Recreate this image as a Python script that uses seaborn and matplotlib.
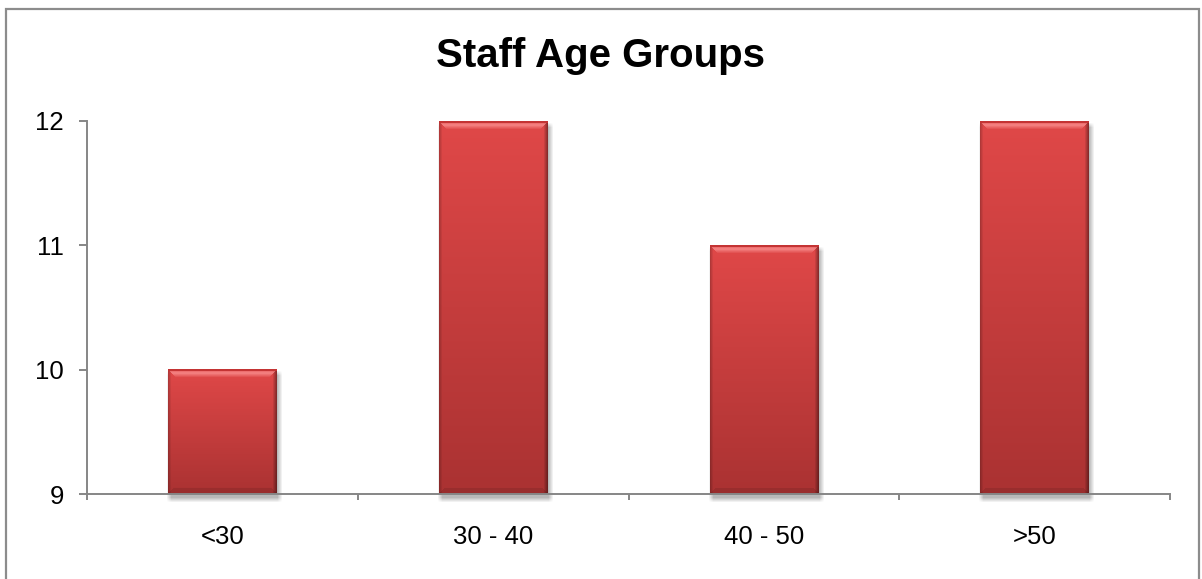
import numpy as np
import pandas as pd
import matplotlib
matplotlib.use("Agg")
import matplotlib.pyplot as plt
import seaborn as sns
from matplotlib.patches import Rectangle

# Chart data
age_groups = ["<30", "30 - 40", "40 - 50", ">50"]
staff_counts = [10, 12, 11, 12]
y_ticks = [9, 10, 11, 12]
chart_title = "Staff Age Groups"

sns.set_theme(style="white")
plt.rcParams["font.family"] = ["Liberation Sans", "DejaVu Sans"]

W, H, DPI = 1202, 579, 100
AXIS_GREY = "#868686"

fig = plt.figure(figsize=(W / DPI, H / DPI), dpi=DPI)
fig.patch.set_facecolor("white")
ax = fig.add_axes([87 / W, 1 - 494 / H, (1170 - 87) / W, (494 - 121) / H])

df = pd.DataFrame({"group": age_groups, "staff": staff_counts})
sns.barplot(data=df, x="group", y="staff", ax=ax, color="#d64343",
            width=0.4, saturation=1, edgecolor="none", zorder=2)

ax.set_ylim(y_ticks[0], y_ticks[-1])
ax.set_xlim(-0.5, len(age_groups) - 0.5)
ax.set_xlabel("")
ax.set_ylabel("")


def bar_texture(wpx, hpx):
    """Bevelled red fill for a bar of wpx x hpx pixels."""
    ys = np.arange(hpx)[:, None].astype(float)
    xs = np.arange(wpx)[None, :].astype(float)
    t = ys / max(hpx - 1, 1)
    top = np.array([224, 72, 72]) / 255.0
    bot = np.array([170, 50, 50]) / 255.0
    img = top[None, None, :] + (bot - top)[None, None, :] * t[..., None]
    img = np.repeat(img, wpx, axis=1)

    # darker side edges
    left = np.clip(xs / 3.0, 0, 1)
    right = np.clip((wpx - 1 - xs) / 4.0, 0, 1)
    shade = (0.80 + 0.20 * left) * (0.62 + 0.38 * right)
    img = img * shade[..., None]

    # top bevel: thin dark rim then a light band, cut at the corners
    bevel = 8
    inside = (xs >= ys) & (xs <= wpx - 1 - ys)
    hl = np.clip(1 - np.abs(ys - 3.5) / 4.5, 0, 1)
    light = np.array([248, 140, 140]) / 255.0
    mask_top = (ys < bevel) & inside & (ys >= 2)
    a = (hl * mask_top)[..., None] * 0.9
    img = img * (1 - a) + light[None, None, :] * a
    rim = (ys < 2) & np.ones_like(xs, dtype=bool)
    img[rim] = np.array([196, 52, 52]) / 255.0

    # bottom bevel: slightly darker band
    yb = hpx - 1 - ys
    mask_bot = (yb < 6) & (xs >= yb) & (xs <= wpx - 1 - yb)
    img = img * np.where(mask_bot, 0.9, 1.0)[..., None]
    return np.clip(img, 0, 1)


def shadow_texture(wpx, hpx, soft=5.0):
    ys = np.arange(hpx)[:, None].astype(float)
    xs = np.arange(wpx)[None, :].astype(float)
    ax_ = np.clip(np.minimum(xs, wpx - 1 - xs) / soft, 0, 1)
    ay_ = np.clip(np.minimum(ys, hpx - 1 - ys) / soft, 0, 1)
    alpha = 0.28 * ax_ * ay_
    rgba = np.zeros((hpx, wpx, 4))
    rgba[..., 3] = alpha
    return rgba


px_per_x = ax.transData.transform((1, 0))[0] - ax.transData.transform((0, 0))[0]
px_per_y = ax.transData.transform((0, 1))[1] - ax.transData.transform((0, 0))[1]
base = ax.get_ylim()[0]

for patch in ax.patches:
    x0 = patch.get_x()
    x1 = x0 + patch.get_width()
    y1 = patch.get_y() + patch.get_height()
    wpx = max(int(round((x1 - x0) * px_per_x)), 4)
    hpx = max(int(round((y1 - base) * px_per_y)), 4)

    # soft drop shadow, offset down and to the right
    dx, dy, grow = 2.0 / px_per_x, 5.0 / px_per_y, 4.0
    sh = shadow_texture(wpx + 8, hpx + 8)
    ax.imshow(sh, extent=(x0 + dx - grow / px_per_x, x1 + dx + grow / px_per_x,
                          base - dy - grow / px_per_y, y1 - dy + grow / px_per_y),
              aspect="auto", zorder=1, interpolation="bilinear", clip_on=False)

    tex = bar_texture(wpx, hpx)
    ax.imshow(tex, extent=(x0, x1, base, y1), aspect="auto", zorder=2.2,
              interpolation="bilinear")
    patch.set_visible(False)

ax.set_xlim(-0.5, len(age_groups) - 0.5)
ax.set_ylim(y_ticks[0], y_ticks[-1])

# Axes styling
for side in ("top", "right"):
    ax.spines[side].set_visible(False)
for side in ("left", "bottom"):
    ax.spines[side].set_color(AXIS_GREY)
    ax.spines[side].set_linewidth(1.4)
    ax.spines[side].set_zorder(3)

ax.set_yticks(y_ticks)
ax.set_yticklabels([str(v) for v in y_ticks])
ax.tick_params(axis="y", which="major", left=True, length=5.5, width=1.4,
               color=AXIS_GREY, direction="out", pad=11, labelsize=18.5,
               labelcolor="black")

ax.set_xticks(range(len(age_groups)))
ax.set_xticklabels(age_groups)
ax.tick_params(axis="x", which="major", bottom=False, length=0, pad=22,
               labelsize=18.5, labelcolor="black")
ax.set_xticks(np.arange(-0.5, len(age_groups), 1.0), minor=True)
ax.tick_params(axis="x", which="minor", bottom=True, length=4.5, width=1.4,
               color=AXIS_GREY, direction="out")
ax.grid(False)

fig.text(0.5, 1 - 56 / H, chart_title, ha="center", va="center",
         fontsize=29, fontweight="bold", color="black")

# Chart-area border
fig.patches.append(Rectangle((6 / W, -0.02), (1199 - 6) / W, 1 - 9 / H + 0.02,
                             transform=fig.transFigure, fill=False,
                             edgecolor="#8c8c8c", linewidth=1.6, zorder=0))

fig.savefig("out.png", dpi=DPI)
